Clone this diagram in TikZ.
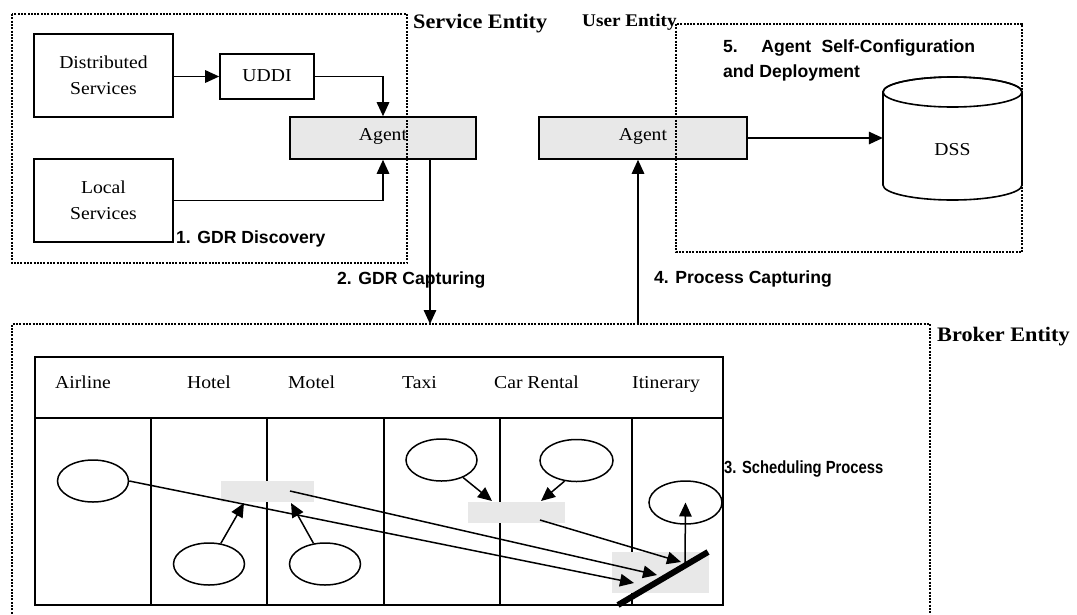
\documentclass[tikz,border=0pt]{standalone}
\usepackage{fontspec}
\setmainfont{Liberation Serif}[FakeStretch=1.08]
\newfontfamily\sansr{Liberation Sans}
\newfontfamily\sanscond{Liberation Sans}[FakeStretch=0.84]
\usetikzlibrary{arrows.meta,shapes.geometric}
\begin{document}
\begin{tikzpicture}[x=1pt,y=-1pt,
  tx/.style={font=\fontsize{18.2}{26}\selectfont, inner sep=0pt},
  lbl/.style={font=\fontsize{20.6}{24}\selectfont\bfseries, inner sep=0pt},
  sl/.style={font=\sansr\bfseries\fontsize{17.6}{25}\selectfont, inner sep=0pt},
  wbox/.style={draw, line width=1.6pt, fill=white, inner sep=0pt, align=center,
    font=\fontsize{18.2}{26}\selectfont},
  gbox/.style={wbox, fill=gray!18},
  shade/.style={fill=gray!18, inner sep=0pt},
  ent/.style={line width=2pt, dash pattern=on 2pt off 1.3pt},
  arr/.style={line width=1.5pt, -{Triangle[length=14pt,width=12.5pt]}},
  ell/.style={ellipse, draw, line width=1.5pt, inner sep=0pt, minimum width=71pt, minimum height=42pt},
  tline/.style={line width=1.6pt}
]
\useasboundingbox (0,0) rectangle (1077,614);
\clip (0,0) rectangle (1077,614);

% ---------- service entity ----------
\node[wbox, minimum width=139pt, minimum height=83pt] (dist) at (103.5,75.5) {Distributed\\Services};
\node[wbox, minimum width=94pt, minimum height=45pt, text height=12pt, text depth=3pt] (uddi) at (267,76.5) {UDDI};
\node[gbox, minimum width=186pt, minimum height=42pt, text height=12pt, text depth=8pt] (agentL) at (383,138) {Agent};
\node[wbox, minimum width=139pt, minimum height=83pt] (local) at (103.5,200.5) {Local\\Services};

\draw[arr] (uddi.west -| dist.east) -- (uddi.west);
\draw[arr] (uddi.east) -| (agentL.north);
\draw[arr] (local.east) -| (agentL.south);

% ---------- user entity ----------
\node[gbox, minimum width=208pt, minimum height=42pt, text height=12pt, text depth=8pt] (agentR) at (643,138) {Agent};

\draw[line width=1.6pt, fill=white] (883,92) -- (883,185)
  arc[start angle=180, end angle=0, x radius=69.5, y radius=15] -- (1022,92)
  arc[start angle=0, end angle=-180, x radius=69.5, y radius=15] -- cycle;
\draw[line width=1.6pt] (952.5,92) ellipse[x radius=69.5, y radius=15];
\node[minimum width=139pt, minimum height=123pt, inner sep=0pt] (dss) at (952.5,138.5) {};
\node[tx, anchor=base] (dsstext) at (952.5,155) {DSS};

\draw[arr] (agentR.east) -- (agentR.east -| dss.west);

% ---------- entity frames ----------
\draw[ent] (12,14) rectangle (407,263);
\draw[ent] (676,24) rectangle (1022,252);
\draw[ent] (12,640) -- (12,324) -- (930,324) -- (930,640);

\node[lbl, anchor=base west] (svcent) at (413,28) {Service Entity};
\node[font=\fontsize{17.8}{22}\selectfont\bfseries, inner sep=0pt, anchor=base west] (usrent) at (582,26.5) {User Entity};
\node[lbl, anchor=base west] (brkent) at (937,341) {Broker Entity};

% ---------- capturing arrows ----------
\coordinate (brkL) at (430,324);
\coordinate (brkR) at (638,324);
\draw[arr] (agentL.south -| brkL) -- (brkL);
\draw[arr] (brkR) -- (agentR.south -| brkR);

\node[sl, anchor=base west] (l1) at (176,243) {1. GDR Discovery};
\node[sl, anchor=base west] (l2) at (337,284) {2. GDR Capturing};
\node[sl, anchor=base west] (l4) at (654,283) {4. Process Capturing};
\node[sl, anchor=base west, align=left] (l5) at (723,77)
  {\makebox[252pt][s]{5. Agent Self-Configuration}\\and Deployment};
\node[font=\sanscond\bfseries\fontsize{17.6}{25}\selectfont, inner sep=0pt, anchor=base west] (l3) at (724,473) {3. Scheduling Process};

% ---------- table ----------
\draw[tline] (35,357) rectangle (723,605);
\draw[tline] (35,418) -- (723,418);
\foreach \cx in {151,267,384,500,632} \draw[tline] (\cx,418) -- (\cx,605);

\node[tx, anchor=base west] (hAir) at (55,388) {Airline};
\node[tx, anchor=base west] (hHot) at (187,388) {Hotel};
\node[tx, anchor=base west] (hMot) at (288,388) {Motel};
\node[tx, anchor=base west] (hTax) at (402,388) {Taxi};
\node[tx, anchor=base west] (hCar) at (494,388) {Car Rental};
\node[tx, anchor=base west] (hIti) at (632,388) {Itinerary};

% grey staging areas
\node[shade, minimum width=93pt, minimum height=21pt] (g1) at (267.5,491.5) {};
\node[shade, minimum width=97pt, minimum height=21pt] (g2) at (516.5,512.5) {};
\node[shade, minimum width=97pt, minimum height=41pt] (g3) at (660.5,572.5) {};

% ellipses
\node[ell] (airE) at (93,481) {};
\node[ell] (hotE) at (209,564) {};
\node[ell] (motE) at (325,564) {};
\node[ell] (taxE) at (441.5,460) {};
\node[ell, minimum width=73pt] (carE) at (576.5,460.5) {};
\node[ell, minimum width=73pt, minimum height=43pt] (itiE) at (685.5,502.5) {};

% coordinates
\coordinate (t1a) at (244,503);
\coordinate (t1b) at (291,503);
\coordinate (t2a) at (492,501);
\coordinate (t2b) at (541,501);
\coordinate (s2) at (290,491);
\coordinate (s3) at (540,520);
\coordinate (e1) at (634,583);
\coordinate (e2) at (657,575);
\coordinate (e3) at (681,562);
\coordinate (bu) at (685,563);
\coordinate (barA) at (618,605);
\coordinate (barB) at (708,552);

\draw[arr] (hotE) -- (t1a);
\draw[arr] (motE) -- (t1b);
\draw[arr] (taxE) -- (t2a);
\draw[arr] (carE.240) -- (t2b);
\draw[arr] (airE.east) -- (e1);
\draw[arr] (s2) -- (e2);
\draw[arr] (s3) -- (e3);
\draw[arr] (bu) -- (itiE.center);
\draw[line width=6pt] (barA) -- (barB);
\end{tikzpicture}
\end{document}
